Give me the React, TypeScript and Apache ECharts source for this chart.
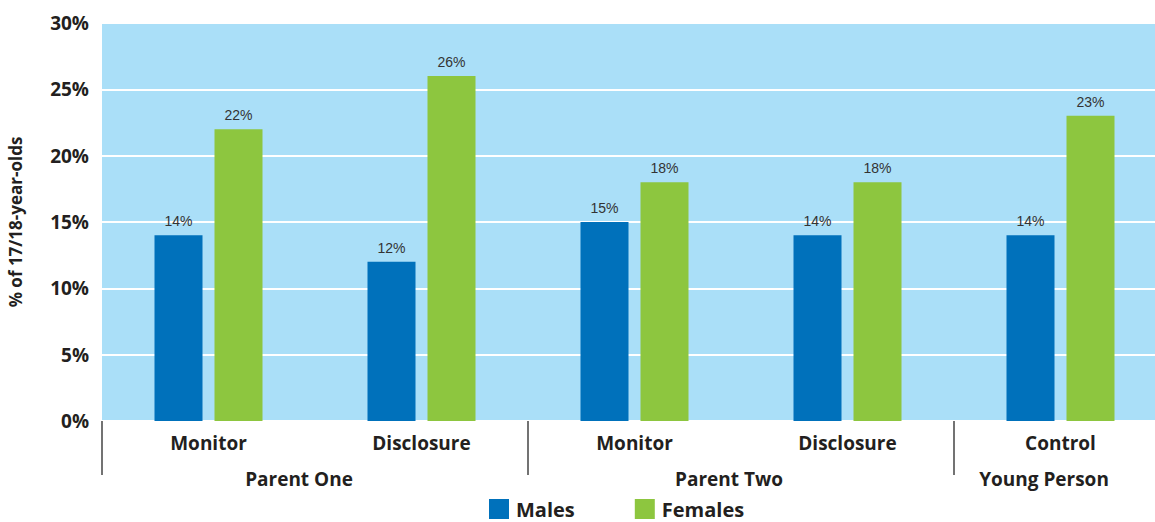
import React, { useEffect, useRef } from "react";
import * as echarts from "echarts";

const categories = ["Monitor", "Disclosure", "Monitor", "Disclosure", "Control"];
const groups = ["Parent One", "Parent Two", "Young Person"];
const males = [14, 12, 15, 14, 14];
const females = [22, 26, 18, 18, 23];
const yTicks = [0, 5, 10, 15, 20, 25, 30];

const FONT = "'Open Sans', 'Noto Sans', sans-serif";
const TXT = "#231f20";

export default function App() {
  const ref = useRef<HTMLDivElement>(null);
  useEffect(() => {
    if (!ref.current) return;
    const chart = echarts.init(ref.current, undefined, { renderer: "svg" });
    const groupPos = [299, 729, 1044];
    chart.setOption({
      animation: false,
      grid: {
        left: 102,
        top: 23,
        width: 1065,
        bottom: 101,
        show: true,
        backgroundColor: "#aadff8",
        borderWidth: 0,
        outerBoundsMode: "none",
        containLabel: false,
      },
      legend: {
        bottom: 3,
        left: 489,
        padding: 0,
        itemWidth: 20,
        itemHeight: 20,
        itemGap: 60,
        icon: "rect",
        textStyle: {
          fontFamily: FONT,
          fontWeight: "bold",
          fontSize: 20,
          lineHeight: 20,
          color: TXT,
          padding: [0, 0, 0, 2],
        },
        data: ["Males", "Females"],
      },
      xAxis: {
        type: "category",
        data: categories,
        axisLine: { show: false },
        axisTick: {
          show: true,
          length: 54,
          interval: (i: number) => i === 0 || i === 2 || i === 4,
          lineStyle: { color: "#444", width: 1.5 },
        },
        axisLabel: {
          margin: 12,
          fontFamily: FONT,
          fontWeight: "bold",
          fontSize: 19,
          color: TXT,
        },
      },
      yAxis: {
        type: "value",
        min: 0,
        max: yTicks[yTicks.length - 1],
        interval: 5,
        name: "% of 17/18-year-olds",
        nameLocation: "middle",
        nameGap: 78,
        nameTextStyle: { fontFamily: FONT, fontWeight: "bold", fontSize: 17, color: TXT },
        axisLine: { show: false },
        axisTick: { show: false },
        axisLabel: {
          margin: 13,
          formatter: "{value}%",
          fontFamily: FONT,
          fontWeight: "bold",
          fontSize: 19,
          color: TXT,
        },
        splitLine: { lineStyle: { color: "#ffffff", width: 2 } },
      },
      series: [
        {
          name: "Males",
          type: "bar",
          data: males,
          barWidth: 48,
          barGap: "25%",
          itemStyle: { color: "#0071bb" },
          label: {
            show: true,
            position: "top",
            distance: 7,
            formatter: "{c}%",
            fontFamily: "'Liberation Sans', Arial, sans-serif",
            fontSize: 14,
            color: "#333",
          },
        },
        {
          name: "Females",
          type: "bar",
          data: females,
          barWidth: 48,
          itemStyle: { color: "#8dc63f" },
          label: {
            show: true,
            position: "top",
            distance: 7,
            formatter: "{c}%",
            fontFamily: "'Liberation Sans', Arial, sans-serif",
            fontSize: 14,
            color: "#333",
          },
        },
      ],
      graphic: groups.map((g, i) => ({
        type: "text",
        x: groupPos[i],
        y: 479,
        style: {
          text: g,
          fontFamily: FONT,
          fontWeight: "bold",
          fontSize: 19,
          fill: TXT,
          align: "center",
          verticalAlign: "middle",
        },
      })),
    });
    return () => chart.dispose();
  }, []);
  return <div ref={ref} style={{ width: 1155, height: 522, position: "absolute", left: 0, top: 0 }} />;
}
